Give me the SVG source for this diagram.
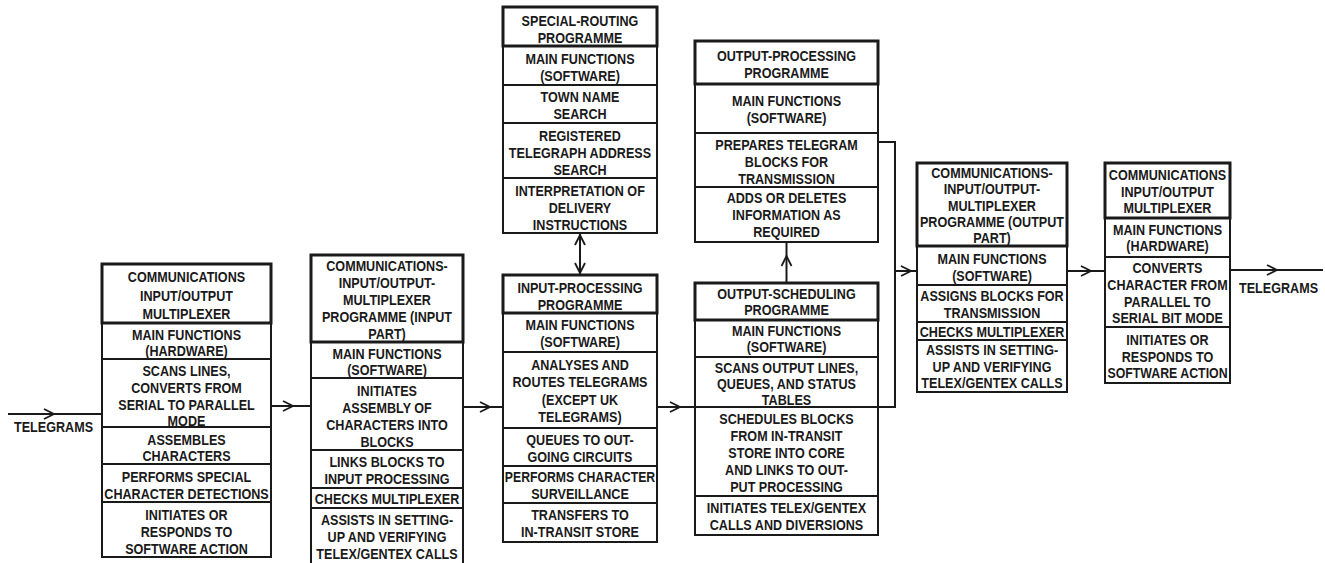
<svg xmlns="http://www.w3.org/2000/svg" width="1325" height="563" viewBox="0 0 1325 563">
<style>
.box{fill:none;stroke:#1a1a1a;stroke-width:2}
.title{fill:none;stroke:#1a1a1a;stroke-width:3}
.row{stroke:#1a1a1a;stroke-width:1.8}
.t{font-family:"Liberation Sans",Arial,sans-serif;font-weight:bold;font-size:15px;fill:#1a1a1a;text-anchor:middle}
.conn{fill:none;stroke:#1a1a1a;stroke-width:2}
.arr{marker-mid:url(#chev)}
</style>
<defs>
<marker id="chev" viewBox="0 0 12 12" refX="6" refY="6" markerWidth="12" markerHeight="12" markerUnits="userSpaceOnUse" orient="auto">
<path d="M1,1 L11,6 L1,11" fill="none" stroke="#1a1a1a" stroke-width="1.8"/>
</marker>
</defs>
<rect width="1325" height="563" fill="#ffffff"/>

<g id="connectors">
<path class="conn arr" d="M8,414 L49,414 L102,414"/>
<path class="conn arr" d="M271,406 L288,406 L311,406"/>
<path class="conn arr" d="M463,407 L485,407 L503,407"/>
<path class="conn arr" d="M657,407 L675,407 L695,407"/>
<path class="conn arr" d="M580,254 L580,240 L580,233"/>
<path class="conn arr" d="M580,254 L580,268 L580,275"/>
<path class="conn arr" d="M786.5,283 L786.5,261 L786.5,242"/>
<path class="conn" d="M878,142 L895,142 L895,407 L878,407"/>
<path class="conn arr" d="M895,271 L906,271 L917,271"/>
<path class="conn arr" d="M1067,271 L1086,271 L1105,271"/>
<path class="conn arr" d="M1230,270 L1272,270 L1323,270"/>
<g transform="translate(53.5,0) scale(0.84,1)"><text class="t" x="0" y="432">TELEGRAMS</text></g>
<g transform="translate(1278.5,0) scale(0.84,1)"><text class="t" x="0" y="293">TELEGRAMS</text></g>
</g>

<g id="n1">
<rect class="box" x="102" y="264" width="169" height="293"/>
<rect class="title" x="102" y="264" width="169" height="59"/>
<line class="row" x1="102" y1="359" x2="271" y2="359"/>
<line class="row" x1="102" y1="427" x2="271" y2="427"/>
<line class="row" x1="102" y1="464" x2="271" y2="464"/>
<line class="row" x1="102" y1="502" x2="271" y2="502"/>
<g transform="translate(186.5,0) scale(0.84,1)">
<text class="t" x="0" y="282">COMMUNICATIONS</text>
<text class="t" x="0" y="301">INPUT/OUTPUT</text>
<text class="t" x="0" y="319">MULTIPLEXER</text>
<text class="t" x="0" y="340">MAIN FUNCTIONS</text>
<text class="t" x="0" y="356">(HARDWARE)</text>
<text class="t" x="0" y="376">SCANS LINES,</text>
<text class="t" x="0" y="393">CONVERTS FROM</text>
<text class="t" x="0" y="410">SERIAL TO PARALLEL</text>
<text class="t" x="0" y="426">MODE</text>
<text class="t" x="0" y="445">ASSEMBLES</text>
<text class="t" x="0" y="461">CHARACTERS</text>
<text class="t" x="0" y="482">PERFORMS SPECIAL</text>
<text class="t" x="0" y="499">CHARACTER DETECTIONS</text>
<text class="t" x="0" y="520">INITIATES OR</text>
<text class="t" x="0" y="537">RESPONDS TO</text>
<text class="t" x="0" y="554">SOFTWARE ACTION</text>
</g>
</g>

<g id="n2">
<rect class="box" x="311" y="255" width="152" height="311"/>
<rect class="title" x="311" y="255" width="152" height="87"/>
<line class="row" x1="311" y1="378" x2="463" y2="378"/>
<line class="row" x1="311" y1="450" x2="463" y2="450"/>
<line class="row" x1="311" y1="488" x2="463" y2="488"/>
<line class="row" x1="311" y1="508" x2="463" y2="508"/>
<g transform="translate(387,0) scale(0.84,1)">
<text class="t" x="0" y="271">COMMUNICATIONS-</text>
<text class="t" x="0" y="288">INPUT/OUTPUT-</text>
<text class="t" x="0" y="305">MULTIPLEXER</text>
<text class="t" x="0" y="322">PROGRAMME (INPUT</text>
<text class="t" x="0" y="339">PART)</text>
<text class="t" x="0" y="359">MAIN FUNCTIONS</text>
<text class="t" x="0" y="375">(SOFTWARE)</text>
<text class="t" x="0" y="396">INITIATES</text>
<text class="t" x="0" y="413">ASSEMBLY OF</text>
<text class="t" x="0" y="430">CHARACTERS INTO</text>
<text class="t" x="0" y="447">BLOCKS</text>
<text class="t" x="0" y="467">LINKS BLOCKS TO</text>
<text class="t" x="0" y="484">INPUT PROCESSING</text>
<text class="t" x="0" y="504">CHECKS MULTIPLEXER</text>
<text class="t" x="0" y="525">ASSISTS IN SETTING-</text>
<text class="t" x="0" y="542">UP AND VERIFYING</text>
<text class="t" x="0" y="559">TELEX/GENTEX CALLS</text>
</g>
</g>

<g id="n3">
<rect class="box" x="503" y="275" width="154" height="267"/>
<rect class="title" x="503" y="275" width="154" height="38"/>
<line class="row" x1="503" y1="352" x2="657" y2="352"/>
<line class="row" x1="503" y1="428" x2="657" y2="428"/>
<line class="row" x1="503" y1="466" x2="657" y2="466"/>
<line class="row" x1="503" y1="503" x2="657" y2="503"/>
<g transform="translate(580,0) scale(0.84,1)">
<text class="t" x="0" y="293">INPUT-PROCESSING</text>
<text class="t" x="0" y="310">PROGRAMME</text>
<text class="t" x="0" y="330">MAIN FUNCTIONS</text>
<text class="t" x="0" y="347">(SOFTWARE)</text>
<text class="t" x="0" y="370">ANALYSES AND</text>
<text class="t" x="0" y="387">ROUTES TELEGRAMS</text>
<text class="t" x="0" y="405">(EXCEPT UK</text>
<text class="t" x="0" y="422">TELEGRAMS)</text>
<text class="t" x="0" y="445">QUEUES TO OUT-</text>
<text class="t" x="0" y="462">GOING CIRCUITS</text>
<text class="t" x="0" y="482" textLength="179" lengthAdjust="spacingAndGlyphs">PERFORMS CHARACTER</text>
<text class="t" x="0" y="499">SURVEILLANCE</text>
<text class="t" x="0" y="520">TRANSFERS TO</text>
<text class="t" x="0" y="537">IN-TRANSIT STORE</text>
</g>
</g>

<g id="n4">
<rect class="box" x="503" y="7" width="154" height="226"/>
<rect class="title" x="503" y="7" width="154" height="39"/>
<line class="row" x1="503" y1="85" x2="657" y2="85"/>
<line class="row" x1="503" y1="123" x2="657" y2="123"/>
<line class="row" x1="503" y1="178" x2="657" y2="178"/>
<g transform="translate(580,0) scale(0.84,1)">
<text class="t" x="0" y="26">SPECIAL-ROUTING</text>
<text class="t" x="0" y="43">PROGRAMME</text>
<text class="t" x="0" y="64">MAIN FUNCTIONS</text>
<text class="t" x="0" y="81">(SOFTWARE)</text>
<text class="t" x="0" y="102">TOWN NAME</text>
<text class="t" x="0" y="119">SEARCH</text>
<text class="t" x="0" y="141">REGISTERED</text>
<text class="t" x="0" y="158">TELEGRAPH ADDRESS</text>
<text class="t" x="0" y="175">SEARCH</text>
<text class="t" x="0" y="196">INTERPRETATION OF</text>
<text class="t" x="0" y="213">DELIVERY</text>
<text class="t" x="0" y="230">INSTRUCTIONS</text>
</g>
</g>

<g id="n5">
<rect class="box" x="695" y="283" width="183" height="252"/>
<rect class="title" x="695" y="283" width="183" height="37"/>
<line class="row" x1="695" y1="357" x2="878" y2="357"/>
<line class="row" x1="695" y1="407" x2="878" y2="407"/>
<line class="row" x1="695" y1="496" x2="878" y2="496"/>
<g transform="translate(786.5,0) scale(0.84,1)">
<text class="t" x="0" y="299">OUTPUT-SCHEDULING</text>
<text class="t" x="0" y="315">PROGRAMME</text>
<text class="t" x="0" y="336">MAIN FUNCTIONS</text>
<text class="t" x="0" y="352">(SOFTWARE)</text>
<text class="t" x="0" y="373">SCANS OUTPUT LINES,</text>
<text class="t" x="0" y="389">QUEUES, AND STATUS</text>
<text class="t" x="0" y="405">TABLES</text>
<text class="t" x="0" y="424">SCHEDULES BLOCKS</text>
<text class="t" x="0" y="441">FROM IN-TRANSIT</text>
<text class="t" x="0" y="458">STORE INTO CORE</text>
<text class="t" x="0" y="475">AND LINKS TO OUT-</text>
<text class="t" x="0" y="492">PUT PROCESSING</text>
<text class="t" x="0" y="513">INITIATES TELEX/GENTEX</text>
<text class="t" x="0" y="530">CALLS AND DIVERSIONS</text>
</g>
</g>

<g id="n6">
<rect class="box" x="695" y="41" width="183" height="201"/>
<rect class="title" x="695" y="41" width="183" height="43"/>
<line class="row" x1="695" y1="133" x2="878" y2="133"/>
<line class="row" x1="695" y1="187" x2="878" y2="187"/>
<g transform="translate(786.5,0) scale(0.84,1)">
<text class="t" x="0" y="61">OUTPUT-PROCESSING</text>
<text class="t" x="0" y="78">PROGRAMME</text>
<text class="t" x="0" y="106">MAIN FUNCTIONS</text>
<text class="t" x="0" y="123">(SOFTWARE)</text>
<text class="t" x="0" y="150">PREPARES TELEGRAM</text>
<text class="t" x="0" y="167">BLOCKS FOR</text>
<text class="t" x="0" y="184">TRANSMISSION</text>
<text class="t" x="0" y="203">ADDS OR DELETES</text>
<text class="t" x="0" y="220">INFORMATION AS</text>
<text class="t" x="0" y="237">REQUIRED</text>
</g>
</g>

<g id="n7">
<rect class="box" x="917" y="163" width="150" height="229"/>
<rect class="title" x="917" y="163" width="150" height="83"/>
<line class="row" x1="917" y1="285" x2="1067" y2="285"/>
<line class="row" x1="917" y1="322" x2="1067" y2="322"/>
<line class="row" x1="917" y1="340" x2="1067" y2="340"/>
<g transform="translate(992,0) scale(0.84,1)">
<text class="t" x="0" y="178">COMMUNICATIONS-</text>
<text class="t" x="0" y="194">INPUT/OUTPUT-</text>
<text class="t" x="0" y="211">MULTIPLEXER</text>
<text class="t" x="0" y="227">PROGRAMME (OUTPUT</text>
<text class="t" x="0" y="243">PART)</text>
<text class="t" x="0" y="264">MAIN FUNCTIONS</text>
<text class="t" x="0" y="281">(SOFTWARE)</text>
<text class="t" x="0" y="301">ASSIGNS BLOCKS FOR</text>
<text class="t" x="0" y="318">TRANSMISSION</text>
<text class="t" x="0" y="337">CHECKS MULTIPLEXER</text>
<text class="t" x="0" y="355">ASSISTS IN SETTING-</text>
<text class="t" x="0" y="372">UP AND VERIFYING</text>
<text class="t" x="0" y="388">TELEX/GENTEX CALLS</text>
</g>
</g>

<g id="n8">
<rect class="box" x="1105" y="163" width="125" height="220"/>
<rect class="title" x="1105" y="163" width="125" height="55"/>
<line class="row" x1="1105" y1="257" x2="1230" y2="257"/>
<line class="row" x1="1105" y1="327" x2="1230" y2="327"/>
<g transform="translate(1167.5,0) scale(0.84,1)">
<text class="t" x="0" y="180">COMMUNICATIONS</text>
<text class="t" x="0" y="197">INPUT/OUTPUT</text>
<text class="t" x="0" y="213">MULTIPLEXER</text>
<text class="t" x="0" y="235">MAIN FUNCTIONS</text>
<text class="t" x="0" y="251">(HARDWARE)</text>
<text class="t" x="0" y="273">CONVERTS</text>
<text class="t" x="0" y="290">CHARACTER FROM</text>
<text class="t" x="0" y="307">PARALLEL TO</text>
<text class="t" x="0" y="323">SERIAL BIT MODE</text>
<text class="t" x="0" y="345">INITIATES OR</text>
<text class="t" x="0" y="362">RESPONDS TO</text>
<text class="t" x="0" y="378" textLength="143" lengthAdjust="spacingAndGlyphs">SOFTWARE ACTION</text>
</g>
</g>
</svg>
